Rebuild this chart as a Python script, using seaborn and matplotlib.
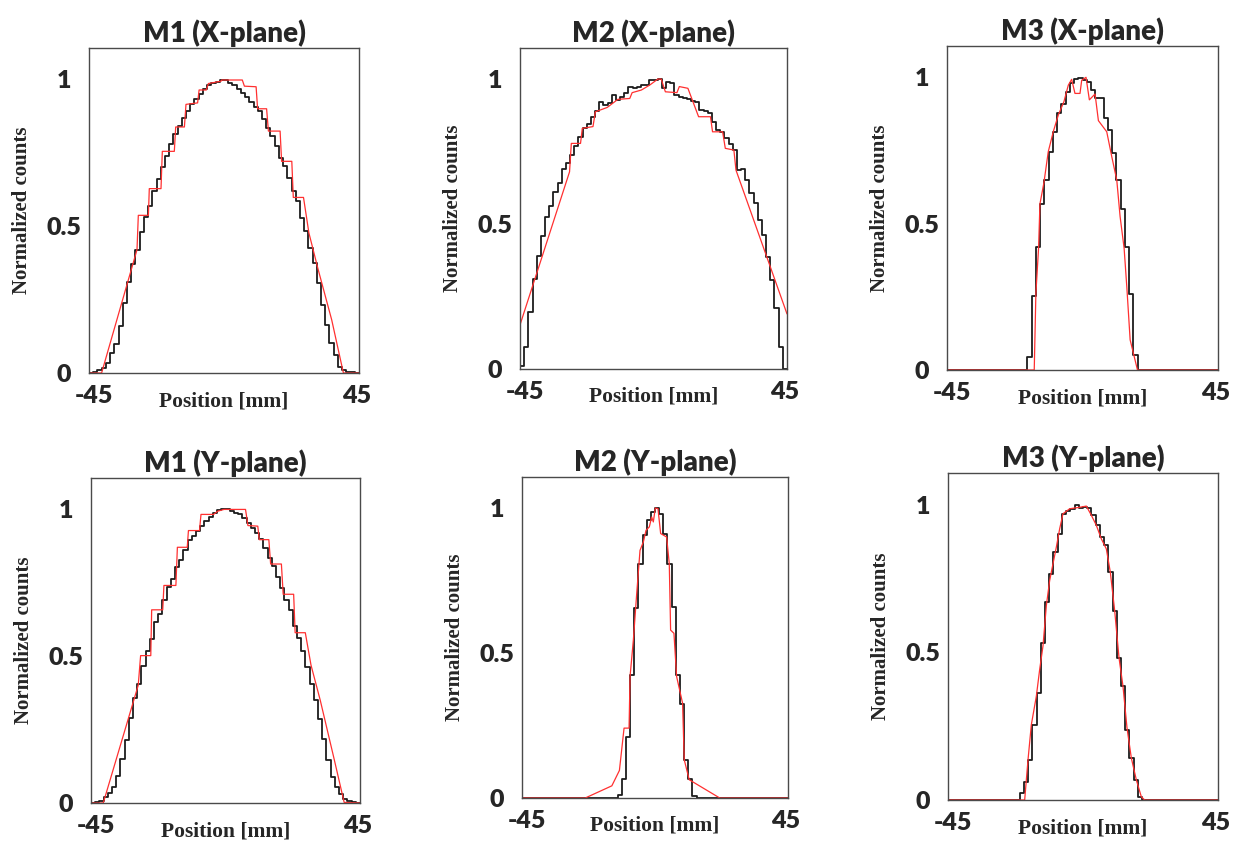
import numpy as np
import pandas as pd
import matplotlib
matplotlib.use("Agg")
import matplotlib.pyplot as plt
import matplotlib.transforms as mtransforms
import seaborn as sns
from matplotlib.ticker import FixedLocator, MultipleLocator

# 64 bins over the detector width, mm
EDGES = np.linspace(-45, 45, 65)

# black histograms (normalized counts per bin)
m1x_counts = [0.0, 0.005, 0.01, 0.016, 0.035, 0.067, 0.10, 0.16,
              0.24, 0.31, 0.37, 0.42, 0.48, 0.53, 0.57, 0.62,
              0.66, 0.70, 0.74, 0.78, 0.815, 0.84, 0.87, 0.894,
              0.917, 0.934, 0.952, 0.966, 0.98, 0.989, 0.991, 0.997,
              0.998, 0.989, 0.98, 0.968, 0.955, 0.94, 0.923, 0.906,
              0.892, 0.866, 0.835, 0.806, 0.772, 0.733, 0.704, 0.664,
              0.619, 0.585, 0.528, 0.482, 0.425, 0.374, 0.306, 0.232,
              0.164, 0.101, 0.061, 0.022, 0.010, 0.005, 0.003, 0.0]
m2x_counts = [0.01, 0.075, 0.195, 0.309, 0.391, 0.46, 0.525, 0.562,
              0.609, 0.643, 0.689, 0.711, 0.737, 0.769, 0.799, 0.83,
              0.845, 0.868, 0.89, 0.922, 0.91, 0.918, 0.945, 0.928,
              0.937, 0.953, 0.974, 0.968, 0.971, 0.979, 0.979, 0.997,
              0.998, 1.0, 0.968, 0.991, 0.985, 0.945, 0.939, 0.936,
              0.93, 0.925, 0.92, 0.893, 0.89, 0.884, 0.853, 0.824,
              0.816, 0.795, 0.776, 0.755, 0.686, 0.69, 0.652, 0.606,
              0.571, 0.514, 0.462, 0.387, 0.307, 0.209, 0.077, 0.0]
m3x_counts = [0.0] * 19 + [0.046, 0.253, 0.42, 0.567, 0.65, 0.746, 0.814, 0.879,
                           0.909, 0.951, 0.98, 0.994, 0.997, 0.99, 0.985, 0.955,
                           0.93, 0.93, 0.86, 0.82, 0.74, 0.65, 0.55, 0.42,
                           0.26, 0.05] + [0.0] * 19
m1y_counts = [0.0, 0.002, 0.008, 0.02, 0.033, 0.054, 0.092, 0.15,
              0.216, 0.288, 0.356, 0.407, 0.466, 0.519, 0.558, 0.616,
              0.644, 0.692, 0.735, 0.764, 0.803, 0.827, 0.863, 0.895,
              0.911, 0.928, 0.943, 0.96, 0.975, 0.989, 0.997, 1.0,
              1.0, 0.994, 0.989, 0.983, 0.971, 0.954, 0.937, 0.92,
              0.9, 0.869, 0.835, 0.806, 0.77, 0.732, 0.692, 0.658,
              0.603, 0.561, 0.519, 0.464, 0.407, 0.35, 0.287, 0.219,
              0.145, 0.09, 0.054, 0.031, 0.014, 0.006, 0.002, 0.0]
m2y_counts = [0.0] * 23 + [0.011, 0.065, 0.212, 0.424, 0.654, 0.808, 0.906, 0.958,
                           0.986, 1.0, 0.98, 0.912, 0.808, 0.659, 0.424, 0.325,
                           0.132, 0.065, 0.006] + [0.0] * 22
m3y_counts = [0.0] * 17 + [0.023, 0.062, 0.136, 0.255, 0.363, 0.533, 0.669, 0.765,
                           0.839, 0.901, 0.969, 0.977, 0.986, 1.0, 0.989, 0.992,
                           0.989, 0.966, 0.93, 0.89, 0.862, 0.771, 0.64, 0.482,
                           0.385, 0.238, 0.142, 0.068, 0.011] + [0.0] * 18

# red curves (position mm, normalized counts)
m1x_fit_x = [-45, -40.8, -29.0, -28.56, -25.2, -24.9, -21.0, -20.56, -16.56, -16.1,
             -13.2, -12.67, -8.8, -8.3, -5.9, -5.2, -1.0, -0.77, 6.1, 6.8,
             10.7, 11.2, 14.2, 14.8, 18.7, 19.2, 22.6, 23.1, 26.5, 28.3,
             31.4, 35.9, 39.8, 45]
m1x_fit_y = [0, 0, 0.42, 0.537, 0.537, 0.628, 0.628, 0.755, 0.755, 0.838,
             0.838, 0.915, 0.92, 0.964, 0.964, 0.986, 0.994, 0.998, 0.998, 0.977,
             0.975, 0.9, 0.9, 0.824, 0.824, 0.721, 0.721, 0.598, 0.598, 0.477,
             0.352, 0.181, 0, 0]
m2x_fit_x = [-45, -28.3, -27.7, -24.6, -24.0, -20.4, -19.6, -15.6, -12.0, -8.0,
             -7.2, -4.1, -1.3, 1.5, 2.6, 4.0, 7.9, 8.7, 11.6, 15.2,
             19.2, 19.9, 23.3, 24.2, 27.1, 27.8, 45]
m2x_fit_y = [0.152, 0.68, 0.778, 0.778, 0.83, 0.836, 0.887, 0.902, 0.93, 0.933,
             0.953, 0.962, 0.979, 1.0, 1.0, 0.956, 0.953, 0.974, 0.968, 0.87,
             0.87, 0.818, 0.818, 0.761, 0.755, 0.686, 0.19]
m3x_fit_x = [-45, -16.03, -15.48, -14.59, -14.14, -12.81, -11.37, -9.71, -8.04, -6.16,
             -4.72, -3.6, -2.5, -0.83, -0.27, 1.17, 2.28, 4.17, 5.28, 8.05,
             9.72, 11.38, 12.49, 13.82, 14.71, 15.82, 18.26, 45]
m3x_fit_y = [0, 0, 0.262, 0.416, 0.567, 0.64, 0.746, 0.814, 0.871, 0.917,
             0.973, 0.993, 0.945, 0.945, 0.99, 1.0, 0.923, 0.943, 0.852, 0.814,
             0.729, 0.649, 0.524, 0.416, 0.285, 0.103, 0, 0]
m1y_fit_x = [-45, -40.9, -29.2, -28.4, -25.0, -24.7, -21.0, -20.6, -16.6, -16.1,
             -12.8, -12.4, -8.7, -8.2, -4.0, -2.6, -0.5, 6.7, 7.5, 10.8,
             11.3, 14.5, 15.1, 18.7, 19.3, 22.8, 23.3, 26.7, 28.6, 31.7,
             36.2, 39.7, 45]
m1y_fit_y = [0, 0, 0.401, 0.502, 0.502, 0.658, 0.658, 0.741, 0.741, 0.871,
             0.871, 0.928, 0.928, 0.983, 0.983, 0.994, 1.0, 1.0, 0.945, 0.943,
             0.897, 0.897, 0.814, 0.814, 0.711, 0.711, 0.58, 0.58, 0.47, 0.35,
             0.156, 0.002, 0]
m2y_fit_x = [-45, -23.6, -14.6, -12.04, -10.47, -8.78, -8.44, -7.32, -6.19, -5.07,
             -3.94, -3.04, -1.92, -1.13, -0.57, 0.11, 1.0, 1.91, 3.93, 4.83,
             5.28, 6.41, 7.31, 9.33, 9.89, 11.58, 21.9, 45]
m2y_fit_y = [0, 0, 0.042, 0.095, 0.241, 0.241, 0.419, 0.545, 0.705, 0.854,
             0.883, 0.923, 0.935, 0.969, 0.952, 1.0, 0.998, 0.912, 0.9, 0.808,
             0.579, 0.568, 0.419, 0.327, 0.132, 0.063, 0, 0]
m3y_fit_x = [-45, -19.44, -18.89, -18.33, -17.22, -15.56, -14.44, -13.33, -12.22, -11.11,
             -10.0, -8.89, -7.78, -6.67, -4.44, -1.11, 1.11, 2.78, 4.44, 6.11,
             7.78, 9.11, 10.56, 12.0, 13.33, 14.67, 16.11, 17.78, 19.44, 20.56, 45]
m3y_fit_y = [0, 0, 0.068, 0.136, 0.255, 0.351, 0.442, 0.522, 0.658, 0.743,
             0.8, 0.856, 0.918, 0.969, 0.986, 0.991, 0.995, 0.964, 0.93, 0.884,
             0.85, 0.771, 0.641, 0.482, 0.385, 0.244, 0.142, 0.068, 0.011, 0, 0]

titles = ["M1 (X-plane)", "M2 (X-plane)", "M3 (X-plane)",
          "M1 (Y-plane)", "M2 (Y-plane)", "M3 (Y-plane)"]
x_ticklabels = ["-45", "45"]
y_ticklabels = ["0", "", "0.5", "", "1"]

SANS = ["Lato", "DejaVu Sans"]
SERIF = ["Liberation Serif", "DejaVu Serif"]

# axes boxes in figure pixels (left, top, right, bottom) of a 1233x843 canvas
BOXES = [(89, 48, 359, 373), (520, 48, 787, 369), (947, 46, 1218, 370),
         (91, 478, 360, 803), (522, 477, 788, 798), (948, 473, 1218, 800)]
W, H = 1233, 843


def draw_panel(fig, box, title, counts, fit_x, fit_y):
    l, t, r, b = box
    ax = fig.add_axes([l / W, (H - b) / H, (r - l) / W, (b - t) / H])
    centers = (EDGES[:-1] + EDGES[1:]) / 2
    hist_df = pd.DataFrame({"pos": centers, "w": counts})
    sns.histplot(data=hist_df, x="pos", weights="w", bins=EDGES.tolist(), element="step",
                 fill=False, color="#1c1c1c", linewidth=1.3, ax=ax)
    sns.lineplot(x=fit_x, y=fit_y, sort=False, estimator=None,
                 color="#ff3030", linewidth=0.9, ax=ax)

    ax.set_xlim(-45, 45)
    ax.set_ylim(0, 1.107)

    ax.set_xticks([-45, 45])
    ax.set_xticklabels(x_ticklabels)
    ax.xaxis.set_minor_locator(FixedLocator([-27, -9, 9, 27]))
    ax.set_yticks([0, 0.25, 0.5, 0.75, 1.0])
    ax.set_yticklabels(y_ticklabels)
    ax.yaxis.set_minor_locator(MultipleLocator(0.05))

    ax.tick_params(axis="x", which="major", length=0, pad=8.5, labelsize=18)
    ax.tick_params(axis="x", which="minor", direction="in", length=5, width=1, color="#4a4a4a")
    ax.tick_params(axis="y", which="major", direction="in", length=10, width=1,
                   color="#4a4a4a", pad=18, labelsize=18)
    ax.tick_params(axis="y", which="minor", direction="in", length=5, width=1, color="#4a4a4a")
    for lbl in ax.get_xticklabels() + ax.get_yticklabels():
        lbl.set_fontfamily(SANS)
        lbl.set_fontweight("heavy")
    for lbl in ax.get_yticklabels():
        lbl.set_horizontalalignment("center")
    # the end labels sit slightly inside the frame corners
    xl = ax.get_xticklabels()
    xl[0].set_transform(xl[0].get_transform() +
                        mtransforms.ScaledTranslation(5 / 100, 0, fig.dpi_scale_trans))
    xl[1].set_transform(xl[1].get_transform() +
                        mtransforms.ScaledTranslation(-2 / 100, 0, fig.dpi_scale_trans))

    for sp in ax.spines.values():
        sp.set_visible(True)
        sp.set_color("#4a4a4a")
        sp.set_linewidth(1.0)

    ax.set_title(title, fontsize=20, fontweight="heavy", family=SANS, pad=4)
    ax.set_xlabel("Position [mm]", fontsize=15.5, fontweight="bold", family=SERIF, va="top")
    ax.set_ylabel("Normalized counts", fontsize=15, fontweight="bold", family=SERIF, va="center")
    ax.xaxis.set_label_coords(0.5, -0.056)
    ax.yaxis.set_label_coords(-67 / (r - l), 0.5)
    return ax


sns.set_theme(style="white")
plt.rcParams["font.family"] = SANS

fig = plt.figure(figsize=(W / 100, H / 100), dpi=100)
fig.patch.set_facecolor("white")

all_counts = [m1x_counts, m2x_counts, m3x_counts, m1y_counts, m2y_counts, m3y_counts]
all_fx = [m1x_fit_x, m2x_fit_x, m3x_fit_x, m1y_fit_x, m2y_fit_x, m3y_fit_x]
all_fy = [m1x_fit_y, m2x_fit_y, m3x_fit_y, m1y_fit_y, m2y_fit_y, m3y_fit_y]

for box, title, c, fx, fy in zip(BOXES, titles, all_counts, all_fx, all_fy):
    draw_panel(fig, box, title, c, fx, fy)

fig.savefig("out.png", dpi=100, facecolor="white")
